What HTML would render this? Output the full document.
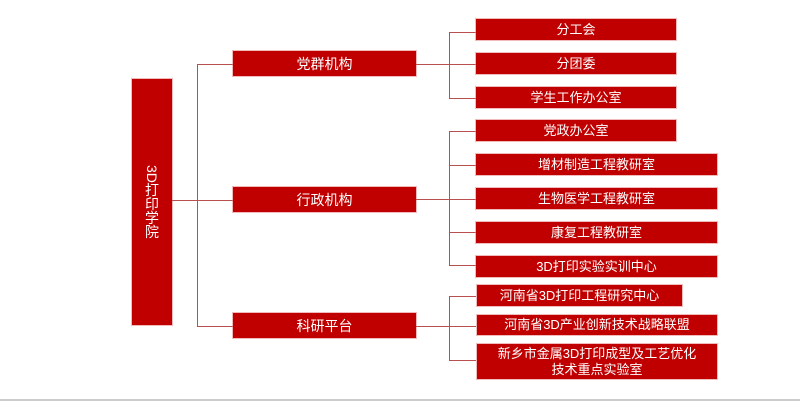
<!DOCTYPE html>
<html><head><meta charset="utf-8"><style>
body{margin:0;width:800px;height:401px;background:#fff;position:relative;overflow:hidden;font-family:"Liberation Sans","Noto Sans CJK SC",sans-serif}
.b{position:absolute;background:#c00000;color:#fff;font-size:13px;display:flex;align-items:center;justify-content:center;text-align:center;line-height:16px;box-shadow:0 0 0 1px rgba(230,120,120,.5)}
.l{position:absolute;background:#b85050}
</style></head><body>
<div class="b" style="left:132px;top:79px;width:40px;height:246px;writing-mode:vertical-rl;font-size:14px">3D打印学院</div>
<div class="l" style="left:172px;top:200px;width:61px;height:1px"></div>
<div class="l" style="left:197px;top:64px;width:1px;height:263px"></div>
<div class="l" style="left:197px;top:64px;width:36px;height:1px"></div>
<div class="l" style="left:197px;top:326px;width:36px;height:1px"></div>
<div class="b" style="left:233px;top:51px;width:183px;height:25px;font-size:14px">党群机构</div>
<div class="b" style="left:233px;top:187px;width:183px;height:25px;font-size:14px">行政机构</div>
<div class="b" style="left:233px;top:313px;width:183px;height:25px;font-size:14px">科研平台</div>
<div class="l" style="left:416px;top:64px;width:60px;height:1px"></div>
<div class="l" style="left:416px;top:199px;width:60px;height:1px"></div>
<div class="l" style="left:416px;top:326px;width:60px;height:1px"></div>
<div class="l" style="left:449px;top:32px;width:1px;height:67px"></div>
<div class="l" style="left:449px;top:131px;width:1px;height:135px"></div>
<div class="l" style="left:449px;top:296px;width:1px;height:65px"></div>
<div class="l" style="left:449px;top:32px;width:27px;height:1px"></div>
<div class="l" style="left:449px;top:98px;width:27px;height:1px"></div>
<div class="l" style="left:449px;top:131px;width:27px;height:1px"></div>
<div class="l" style="left:449px;top:165px;width:27px;height:1px"></div>
<div class="l" style="left:449px;top:232px;width:27px;height:1px"></div>
<div class="l" style="left:449px;top:265px;width:27px;height:1px"></div>
<div class="l" style="left:449px;top:296px;width:27px;height:1px"></div>
<div class="l" style="left:449px;top:360px;width:27px;height:1px"></div>
<div class="b" style="left:476px;top:19px;width:200px;height:21px">分工会</div>
<div class="b" style="left:476px;top:53px;width:200px;height:21px">分团委</div>
<div class="b" style="left:476px;top:87px;width:200px;height:21px">学生工作办公室</div>
<div class="b" style="left:476px;top:120px;width:200px;height:21px">党政办公室</div>
<div class="b" style="left:476px;top:154px;width:241px;height:21px">增材制造工程教研室</div>
<div class="b" style="left:476px;top:188px;width:241px;height:21px">生物医学工程教研室</div>
<div class="b" style="left:476px;top:222px;width:241px;height:21px">康复工程教研室</div>
<div class="b" style="left:476px;top:256px;width:241px;height:21px">3D打印实验实训中心</div>
<div class="b" style="left:477px;top:285px;width:205px;height:21px">河南省3D打印工程研究中心</div>
<div class="b" style="left:477px;top:315px;width:240px;height:20px">河南省3D产业创新技术战略联盟</div>
<div class="b" style="left:477px;top:344px;width:240px;height:35px">新乡市金属3D打印成型及工艺优化<br>技术重点实验室</div>
<div style="position:absolute;left:0;top:399px;width:800px;height:2px;background:#ccc"></div>
</body></html>
